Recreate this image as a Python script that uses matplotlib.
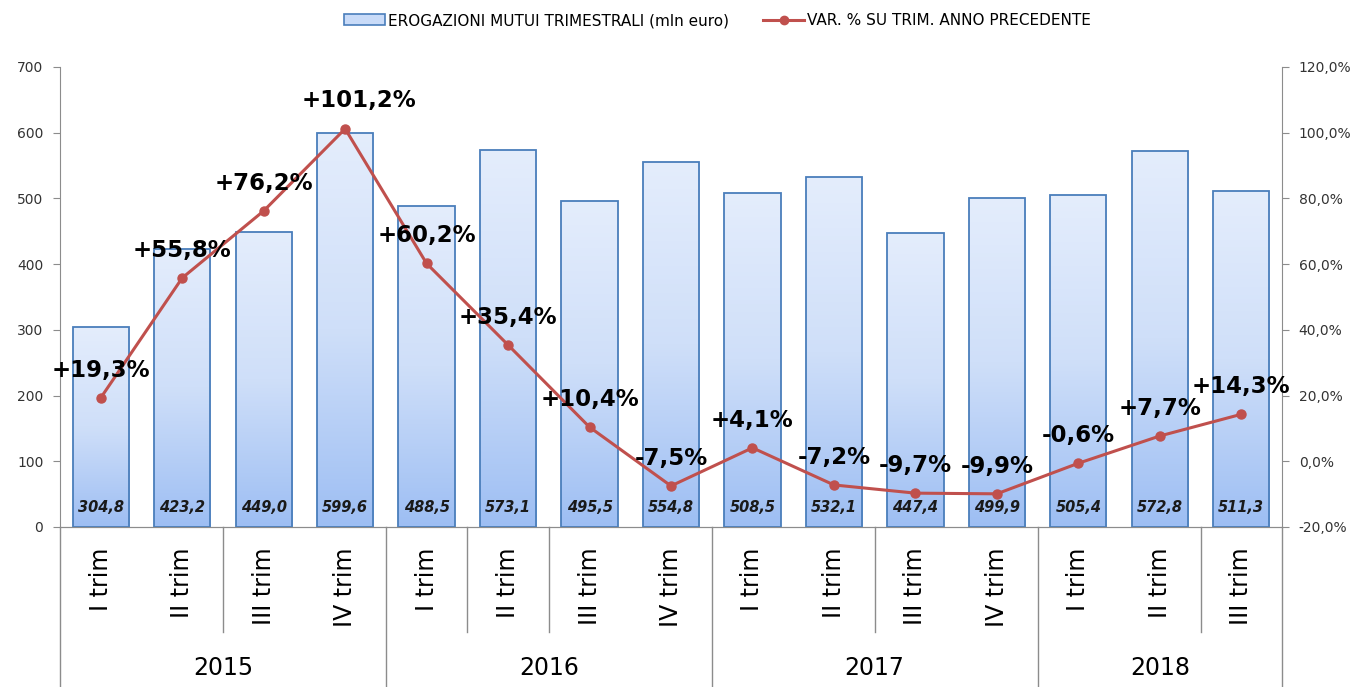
import numpy as np
import matplotlib.pyplot as plt
import matplotlib.transforms as mtransforms
from matplotlib.colors import LinearSegmentedColormap
from matplotlib.patches import Patch
from matplotlib.lines import Line2D

plt.rcParams['font.family'] = ['DejaVu Sans']

# data
quarters = ['I trim', 'II trim', 'III trim', 'IV trim'] * 3 + ['I trim', 'II trim', 'III trim']
years = ['2015', '2016', '2017', '2018']
year_counts = [4, 4, 4, 3]
erogazioni = [304.8, 423.2, 449.0, 599.6, 488.5, 573.1, 495.5, 554.8,
              508.5, 532.1, 447.4, 499.9, 505.4, 572.8, 511.3]
var_pct = [19.3, 55.8, 76.2, 101.2, 60.2, 35.4, 10.4, -7.5,
           4.1, -7.2, -9.7, -9.9, -0.6, 7.7, 14.3]

bar_edge = '#4a7ebb'
line_col = '#c0504d'
axis_col = '#8c8c8c'
grad = LinearSegmentedColormap.from_list('g', ['#9dbef3', '#cfdff9', '#e4edfc'])

fig = plt.figure(figsize=(13.59, 6.87), dpi=100)
ax = fig.add_axes([60/1359, 1-527/687, 1222/1359, 460/687])
ax2 = ax.twinx()

x = np.arange(len(erogazioni))
bars = ax.bar(x, erogazioni, width=0.69, facecolor='none', edgecolor=bar_edge,
              linewidth=1.3, zorder=3)
g = np.linspace(0, 1, 256).reshape(-1, 1)
for b in bars:
    x0, w, h = b.get_x(), b.get_width(), b.get_height()
    im = ax.imshow(g, cmap=grad, origin='lower', extent=[x0, x0 + w, 0, h],
                   aspect='auto', zorder=2)
    im.set_clip_path(b)

ax.set_xlim(-0.5, len(x) - 0.5)
ax.set_ylim(0, 700)
ax.set_yticks(range(0, 701, 100))
ax2.set_ylim(-20, 120)
ax2.set_yticks(range(-20, 121, 20))
ax2.set_yticklabels([f'{v:.1f}%'.replace('.', ',') for v in range(-20, 121, 20)])

for a in (ax, ax2):
    a.spines['top'].set_visible(False)
    for s in a.spines.values():
        s.set_color(axis_col)
    a.tick_params(axis='y', colors=axis_col, labelcolor='#333333', labelsize=10,
                  length=5, pad=7)
ax2.spines['left'].set_visible(False)
ax.spines['right'].set_visible(False)
ax.set_xticks([])

# bar value labels
for xi, v in zip(x, erogazioni):
    ax.annotate(f'{v:.1f}'.replace('.', ','), (xi, 0), xytext=(0, 14), textcoords='offset points',
                ha='center', va='center', fontsize=10.5, fontweight='bold', fontstyle='italic',
                color='#1a1a1a', zorder=5)

# percentage line
ax2.plot(x, var_pct, color=line_col, linewidth=2.2, marker='o', markersize=6.5, zorder=4)
for xi, v in zip(x, var_pct):
    lab = ('+' if v > 0 else '') + f'{v:.1f}%'.replace('.', ',')
    dx = 10 if v > 100 else 0
    ax2.annotate(lab, (xi, v), xytext=(dx, 20), textcoords='offset points',
                 ha='center', va='center', fontsize=16.5, fontweight='bold', color='black', zorder=6)

# multi-level category axis
tr = mtransforms.blended_transform_factory(ax.transData, ax.transAxes)
for xi, q in zip(x, quarters):
    ax.text(xi, -0.045, q, transform=tr, rotation=90, ha='center', va='top', fontsize=17)
start = 0
for yr, n in zip(years, year_counts):
    ax.text(start + n / 2 - 0.5, -0.307, yr, transform=tr, ha='center', va='center', fontsize=17)
    start += n
long_b = [0, 4, 8, 12, 15]
short_b = [2, 5, 6, 10, 14]
for bnd in long_b:
    ax.plot([bnd - 0.5, bnd - 0.5], [0, -0.35], transform=tr, color=axis_col, lw=1, clip_on=False)
for bnd in short_b:
    ax.plot([bnd - 0.5, bnd - 0.5], [0, -0.228], transform=tr, color=axis_col, lw=1, clip_on=False)

handles = [Patch(facecolor='#c9dbf8', edgecolor=bar_edge, linewidth=1.2),
           Line2D([], [], color=line_col, lw=2.2, marker='o', markersize=6)]
fig.legend(handles, ['EROGAZIONI MUTUI TRIMESTRALI (mln euro)', 'VAR. % SU TRIM. ANNO PRECEDENTE'],
           loc='center', bbox_to_anchor=(0.528, 0.97), ncol=2, frameon=False, fontsize=11,
           handlelength=2.7, handletextpad=0.2, columnspacing=2.2)

fig.savefig('out.png', dpi=100)
